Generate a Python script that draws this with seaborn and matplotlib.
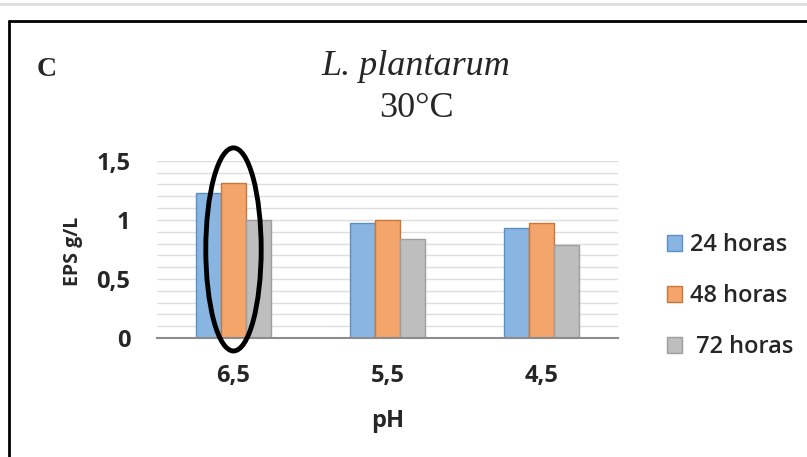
import matplotlib
matplotlib.use("Agg")
import matplotlib.pyplot as plt
import seaborn as sns
import pandas as pd
from matplotlib.patches import Ellipse, Rectangle
from matplotlib.lines import Line2D

ph = ["6,5", "5,5", "4,5"]
series = ["24 horas", "48 horas", " 72 horas"]
v24 = [1.23, 0.97, 0.93]
v48 = [1.31, 1.00, 0.97]
v72 = [1.00, 0.84, 0.79]
yticks = [0, 0.5, 1, 1.5]
ytick_labels = ["0", "0,5", "1", "1,5"]

fills = ["#88B5E1", "#F4A56B", "#BEBEBE"]
edges = ["#5C8FC8", "#C97639", "#9E9E9E"]

df = pd.DataFrame({
    "pH": ph * 3,
    "serie": [series[0]] * 3 + [series[1]] * 3 + [series[2]] * 3,
    "EPS": v24 + v48 + v72,
})

sns.set_theme(style="white")
plt.rcParams['font.family'] = ['Open Sans', 'DejaVu Sans']

fig = plt.figure(figsize=(8.07, 4.57), dpi=100)
ax = fig.add_axes([0.194, 0.2604, 0.572, 0.3876])

sns.barplot(data=df, x="pH", y="EPS", hue="serie", hue_order=series,
            palette=fills, width=0.49, gap=0, ax=ax, legend=False,
            saturation=1, errorbar=None)

for i, cont in enumerate(ax.containers):
    for bar in cont:
        bar.set_edgecolor(edges[i])
        bar.set_linewidth(1.0)

ax.set_ylim(0, 1.5)
ax.set_xlim(-0.5, 2.5)
ax.set_yticks(yticks)
ax.set_yticklabels(ytick_labels)
ax.set_yticks([i / 10 for i in range(16)], minor=True)
ax.yaxis.grid(True, which="both", color="#DEDEDE", linewidth=1.0)
ax.set_axisbelow(True)
ax.tick_params(axis="y", which="both", length=0, pad=19, labelsize=17)
ax.tick_params(axis="x", length=0, pad=19, labelsize=17)
for lbl in ax.get_xticklabels() + ax.get_yticklabels():
    lbl.set_fontweight("bold")

for s in ["top", "right", "left"]:
    ax.spines[s].set_visible(False)
ax.spines["bottom"].set_color("#8C8C8C")
ax.spines["bottom"].set_linewidth(1.5)

ax.set_xlabel("pH", fontsize=17, fontweight="bold", labelpad=15)
ax.set_ylabel("EPS g/L", fontsize=14, fontweight="bold")
ax.yaxis.set_label_coords(-0.16, 0.49)

ell = Ellipse((0.0, 0.75), 0.36, 1.72, fill=False, edgecolor="black",
              linewidth=3.5, clip_on=False, zorder=10)
ax.add_patch(ell)

handles = [Rectangle((0, 0), 1, 1, facecolor=fills[i], edgecolor=edges[i]) for i in range(3)]
fig.legend(handles, series, loc="center left", bbox_to_anchor=(0.800, 0.352),
           frameon=False, handlelength=0.65, handleheight=0.65,
           handletextpad=0.34, labelspacing=1.15,
           prop={"family": "Open Sans", "weight": "semibold", "size": 17})

fig.text(0.5155, 1 - 75 / 457, "L. plantarum", ha="center", va="baseline",
         family="Liberation Serif", style="italic", fontsize=26)
fig.text(0.5155, 1 - 117 / 457, "30°C", ha="center", va="baseline",
         family="Liberation Serif", fontsize=26)
fig.text(0.058, 1 - 76 / 457, "C", ha="center", va="baseline",
         family="Liberation Serif", fontweight="bold", fontsize=20)

fig.add_artist(Line2D([0.011, 1.0], [1 - 21 / 457, 1 - 21 / 457], color="black",
                      linewidth=2.0, transform=fig.transFigure))
fig.add_artist(Line2D([0.011, 0.011], [1 - 21 / 457, 0.0], color="black",
                      linewidth=2.0, transform=fig.transFigure))
fig.add_artist(Line2D([0.0, 1.0], [1 - 4 / 457, 1 - 4 / 457], color="#DDDDDD",
                      linewidth=2.0, transform=fig.transFigure))

fig.savefig("out.png", dpi=100)
